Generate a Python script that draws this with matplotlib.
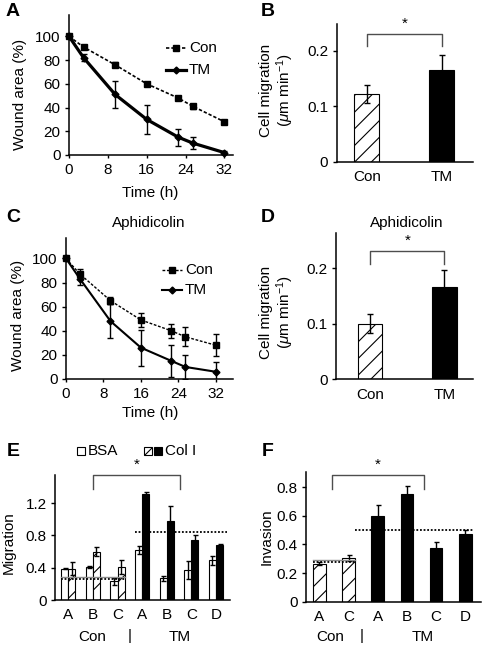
import matplotlib
matplotlib.use('Agg')
import matplotlib.pyplot as plt
from matplotlib.lines import Line2D
from matplotlib.patches import Rectangle

plt.rcParams['font.family'] = 'Liberation Sans'
plt.rcParams['mathtext.fontset'] = 'custom'
plt.rcParams['mathtext.rm'] = 'Liberation Sans'
plt.rcParams['mathtext.it'] = 'Liberation Sans:italic'
plt.rcParams['hatch.linewidth'] = 0.8
plt.rcParams['font.size'] = 11

# --- data ---
time = [0, 3, 9.5, 16, 22.5, 25.5, 32]
time_ticks = [0, 8, 16, 24, 32]

a_con = [100, 91, 76, 60, 48, 41, 28]
a_con_err = [1, 2, 2, 1.5, 2, 2, 1.5]
a_tm = [100, 82, 51, 30, 15, 10, 2]
a_tm_err = [1, 3, 11, 12, 7, 5, 1]

c_con = [100, 87, 65, 49, 40, 35, 28]
c_con_err = [1, 4, 3, 6, 6, 8, 9]
c_tm = [100, 83, 48, 26, 15, 10, 6]
c_tm_err = [1, 5, 14, 15, 13, 10, 8]

bar_groups = ['Con', 'TM']
b_vals = [0.122, 0.165]
b_err = [0.017, 0.027]
d_vals = [0.100, 0.167]
d_err = [0.017, 0.029]

e_labels = ['A', 'B', 'C', 'A', 'B', 'C', 'D']
e_bsa = [0.39, 0.41, 0.23, 0.625, 0.27, 0.37, 0.49]
e_bsa_err = [0.01, 0.01, 0.04, 0.05, 0.03, 0.11, 0.055]
e_col = [0.39, 0.60, 0.41, 1.32, 0.985, 0.745, 0.68]
e_col_err = [0.085, 0.06, 0.09, 0.025, 0.175, 0.065, 0.01]
e_con_n = 3  # first three groups are Con
e_con_mean = 0.26
e_tm_mean = 0.84

f_labels = ['A', 'C', 'A', 'B', 'C', 'D']
f_vals = [0.266, 0.303, 0.60, 0.75, 0.378, 0.47]
f_err = [0.01, 0.02, 0.077, 0.06, 0.037, 0.03]
f_con_n = 2
f_con_mean = 0.28
f_tm_mean = 0.50

W, H = 482, 646
fig = plt.figure(figsize=(W / 100, H / 100), dpi=100)
HATCH = '//'


def box(l, t, r, b):
    return [l / W, 1 - b / H, (r - l) / W, (b - t) / H]


def txt(x, y, s, **kw):
    fig.text(x / W, 1 - y / H, s, ha='center', va='center', **kw)


def style(ax):
    for s in ['top', 'right']:
        ax.spines[s].set_visible(False)
    for s in ['left', 'bottom']:
        ax.spines[s].set_linewidth(1.1)
    ax.tick_params(axis='y', direction='out', length=3, width=1, pad=3, labelsize=11)
    ax.tick_params(axis='x', direction='out', length=2, width=1, pad=4, labelsize=11)


def legend_entry(x0, x1, y, label, **kw):
    # short line with a marker in the middle only
    yy = 1 - y / H
    fig.add_artist(Line2D([x0 / W, (x0 + x1) / 2 / W, x1 / W], [yy, yy, yy],
                          transform=fig.transFigure, markevery=[1], **kw))
    fig.text((x1 + 3) / W, yy, label, va='center', fontsize=11)


con_style = dict(color='black', ls=(0, (2, 1.2)), marker='s', ms=5)
tm_style = dict(color='black', ls='-', marker='D', ms=3.5)


def curve_panel(rect, con, con_err, tm, tm_err, xmax, ymax, lw_con, lw_tm):
    ax = fig.add_axes(rect)
    style(ax)
    ax.errorbar(time, con, yerr=con_err, fmt='none', ecolor='black', elinewidth=1, capsize=2)
    ax.errorbar(time, tm, yerr=tm_err, fmt='none', ecolor='black', elinewidth=1, capsize=2)
    l1, = ax.plot(time, con, lw=lw_con, **con_style)
    l2, = ax.plot(time, tm, lw=lw_tm, **tm_style)
    l1.set_clip_on(False)
    l2.set_clip_on(False)
    ax.set_xlim(0, xmax)
    ax.set_ylim(0, ymax)
    ax.set_xticks(time_ticks)
    ax.set_yticks([0, 20, 40, 60, 80, 100])
    return ax


def bracket(ax, x0, x1, ylo, yhi, color='0.3'):
    ax.plot([x0, x0, x1, x1], [ylo, yhi, yhi, ylo], color=color, lw=1, clip_on=False)
    ax.text((x0 + x1) / 2, yhi + (yhi - ylo) * 0.25, '*', ha='center', va='bottom', fontsize=11)


def two_bar_panel(rect, vals, err, xlim, ymax, br):
    ax = fig.add_axes(rect)
    style(ax)
    ax.bar([0], vals[0], width=0.333, color='white', edgecolor='black', lw=0.8, hatch=HATCH)
    ax.bar([1], vals[1], width=0.333, color='black', edgecolor='black', lw=0.8)
    ax.errorbar([0, 1], vals, yerr=err, fmt='none', ecolor='black', elinewidth=1, capsize=2)
    ax.set_xlim(*xlim)
    ax.set_ylim(0, ymax)
    ax.set_yticks([0, 0.1, 0.2])
    ax.set_yticklabels(['0', '0.1', '0.2'])
    ax.set_xticks([0, 1])
    ax.set_xticklabels(bar_groups)
    ax.tick_params(axis='x', length=0, pad=6)
    bracket(ax, 0, 1, br[0], br[1])
    return ax


# --- A ---
axA = curve_panel(box(69, 15, 232.7, 155), a_con, a_con_err, a_tm, a_tm_err, 33.7, 118, 1.2, 2.3)
txt(20, 94, 'Wound area (%)', rotation=90, fontsize=11)
txt(150, 193, 'Time (h)', fontsize=11)
legend_entry(166, 186, 48, 'Con', lw=1.2, **con_style)
legend_entry(166, 186, 70, 'TM', lw=2.3, **tm_style)

# --- C ---
axC = curve_panel(box(66, 238, 232.7, 379), c_con, c_con_err, c_tm, c_tm_err, 35.6, 117, 1.0, 1.5)
txt(18, 315, 'Wound area (%)', rotation=90, fontsize=11)
txt(150, 413, 'Time (h)', fontsize=11)
txt(149, 223, 'Aphidicolin', fontsize=11)
legend_entry(162, 182, 270, 'Con', lw=1.0, **con_style)
legend_entry(162, 182, 290, 'TM', lw=1.5, **tm_style)

# --- B ---
axB = two_bar_panel(box(336.7, 24.3, 472.7, 161.7), b_vals, b_err, (-0.40, 1.41), 0.2476, (0.209, 0.231))
txt(266, 90, 'Cell migration', rotation=90, fontsize=11)
txt(285, 90, r'($\mu$m min$^{-1}$)', rotation=90, fontsize=11)

# --- D ---
axD = two_bar_panel(box(336, 233.3, 473.3, 379.3), d_vals, d_err, (-0.46, 1.39), 0.263, (0.207, 0.231))
txt(266, 312, 'Cell migration', rotation=90, fontsize=11)
txt(285, 312, r'($\mu$m min$^{-1}$)', rotation=90, fontsize=11)
txt(407, 223, 'Aphidicolin', fontsize=11)

# --- E ---
axE = fig.add_axes(box(55, 475, 230, 600))
style(axE)
xe = list(range(len(e_labels)))
bw = 0.29
axE.bar([x - bw / 2 for x in xe], e_bsa, width=bw, color='white', edgecolor='black', lw=0.8)
axE.errorbar([x - bw / 2 for x in xe], e_bsa, yerr=e_bsa_err, fmt='none', ecolor='black',
             elinewidth=1, capsize=1.8)
for i, x in enumerate(xe):
    if i < e_con_n:
        axE.bar(x + bw / 2, e_col[i], width=bw, color='white', edgecolor='black', lw=0.8, hatch=HATCH)
    else:
        axE.bar(x + bw / 2, e_col[i], width=bw, color='black', edgecolor='black', lw=0.8)
axE.errorbar([x + bw / 2 for x in xe], e_col, yerr=e_col_err, fmt='none', ecolor='black',
             elinewidth=1, capsize=1.8)
axE.plot([-0.3, 2.3], [e_con_mean + 0.02] * 2, color='0.55', lw=1)
axE.plot([-0.3, 2.3], [e_con_mean] * 2, color='black', lw=1.3, ls=(0, (1, 1)))
axE.plot([2.7, 6.45], [e_tm_mean] * 2, color='black', lw=1.3, ls=(0, (1, 1)))
axE.set_xlim(-0.54, 6.57)
axE.set_ylim(0, 1.55)
axE.set_yticks([0, 0.4, 0.8, 1.2])
axE.set_yticklabels(['0', '0.4', '0.8', '1.2'])
axE.set_xticks(xe)
axE.set_xticklabels(e_labels)
axE.tick_params(axis='x', length=0, pad=6)
bracket(axE, 1.0, 4.55, 1.38, 1.545)
txt(9, 543, 'Migration', rotation=90, fontsize=11)
txt(92, 637, 'Con', fontsize=11)
txt(130, 636, '|', fontsize=11)
txt(180, 637, 'TM', fontsize=11)
# legend for E
for (x0, fc, hatch) in [(77, 'white', None), (144, 'white', '/'), (154, 'black', None)]:
    fig.add_artist(Rectangle((x0 / W, 1 - 455 / H), 8 / W, 8 / H, transform=fig.transFigure,
                             facecolor=fc, edgecolor='black', lw=0.8, hatch=hatch))
fig.text(88 / W, 1 - 451 / H, 'BSA', va='center', fontsize=11)
fig.text(165 / W, 1 - 451 / H, 'Col I', va='center', fontsize=11)

# --- F ---
axF = fig.add_axes(box(306, 472, 480.7, 601.7))
style(axF)
xf = list(range(len(f_labels)))
fw = 0.43
for i, x in enumerate(xf):
    if i < f_con_n:
        axF.bar(x, f_vals[i], width=fw, color='white', edgecolor='black', lw=0.8, hatch=HATCH)
    else:
        axF.bar(x, f_vals[i], width=fw, color='black', edgecolor='black', lw=0.8)
axF.errorbar(xf, f_vals, yerr=f_err, fmt='none', ecolor='black', elinewidth=1, capsize=1.8)
axF.plot([-0.21, 1.22], [f_con_mean + 0.008] * 2, color='0.55', lw=1)
axF.plot([-0.21, 1.22], [f_con_mean] * 2, color='black', lw=1.3, ls=(0, (1, 1)))
axF.plot([1.22, 5.25], [f_tm_mean] * 2, color='black', lw=1.3, ls=(0, (1, 1)))
axF.set_xlim(-0.46, 5.53)
axF.set_ylim(0, 0.905)
axF.set_yticks([0, 0.2, 0.4, 0.6, 0.8])
axF.set_yticklabels(['0', '0.2', '0.4', '0.6', '0.8'])
axF.set_xticks(xf)
axF.set_xticklabels(f_labels)
axF.tick_params(axis='x', length=0, pad=6)
bracket(axF, 0.44, 3.58, 0.786, 0.882)
txt(267, 537, 'Invasion', rotation=90, fontsize=11)
txt(330, 637, 'Con', fontsize=11)
txt(362, 636, '|', fontsize=11)
txt(423, 637, 'TM', fontsize=11)

# panel letters
for (x, y, s) in [(13, 11, 'A'), (268, 12, 'B'), (13, 217, 'C'), (268, 217, 'D'),
                  (13, 452, 'E'), (268, 452, 'F')]:
    txt(x, y, s, fontsize=14, fontweight='bold')

fig.savefig('out.png', dpi=100)
